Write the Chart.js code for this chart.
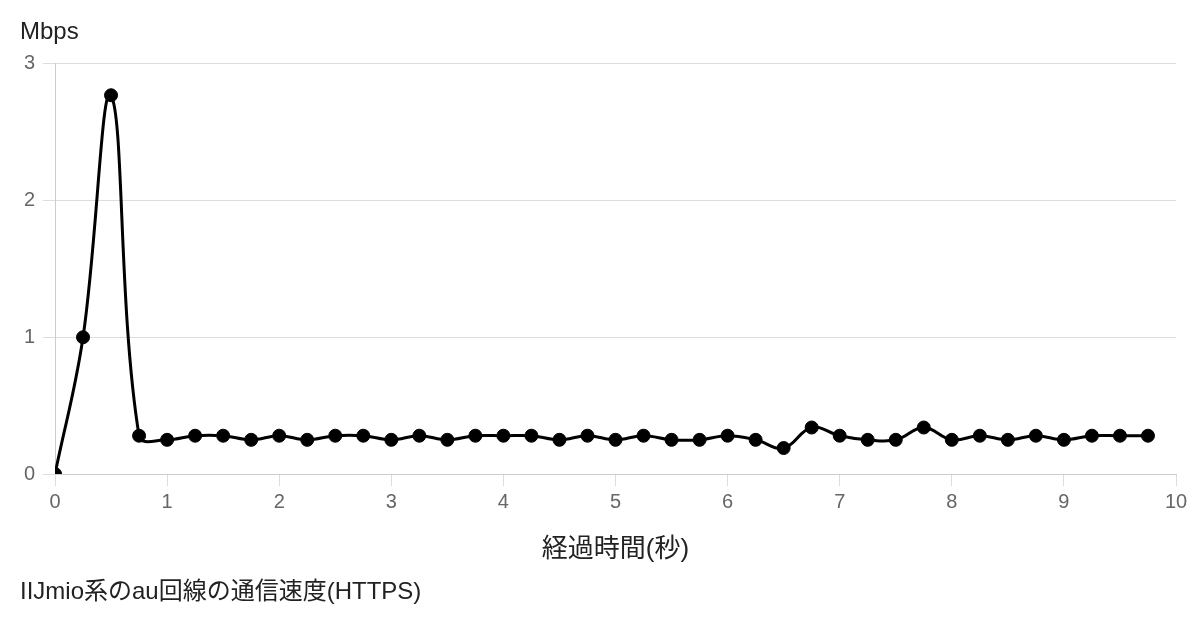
<!DOCTYPE html>
<html>
<head>
<meta charset="utf-8">
<script src="https://cdn.jsdelivr.net/npm/chart.js@4"></script>
<style>
  html, body { margin: 0; padding: 0; background: #fff; }
  #wrap { width: 1200px; height: 624px; }
</style>
</head>
<body>
<div id="wrap"><canvas id="chart"></canvas></div>
<script>
// データ
const times = [0, 0.25, 0.5, 0.75, 1, 1.25, 1.5, 1.75, 2, 2.25, 2.5, 2.75, 3, 3.25, 3.5, 3.75,
  4, 4.25, 4.5, 4.75, 5, 5.25, 5.5, 5.75, 6, 6.25, 6.5, 6.75, 7, 7.25, 7.5, 7.75,
  8, 8.25, 8.5, 8.75, 9, 9.25, 9.5, 9.75];
const speeds = [0, 1.0, 2.77, 0.28, 0.25, 0.28, 0.28, 0.25, 0.28, 0.25, 0.28, 0.28, 0.25, 0.28, 0.25, 0.28,
  0.28, 0.28, 0.25, 0.28, 0.25, 0.28, 0.25, 0.25, 0.28, 0.25, 0.19, 0.34, 0.28, 0.25, 0.25, 0.34,
  0.25, 0.28, 0.25, 0.28, 0.25, 0.28, 0.28, 0.28];
const xTicks = [0, 1, 2, 3, 4, 5, 6, 7, 8, 9, 10];
const yTicks = [0, 1, 2, 3];

const FONT = "'Liberation Sans', 'Noto Sans CJK JP', sans-serif";

const points = times.map((t, i) => ({ x: t, y: speeds[i] }));

new Chart(document.getElementById('chart'), {
    type: 'line',
    data: {
        datasets: [{
            label: '通信速度',
            data: points,
            borderColor: '#000',
            backgroundColor: '#000',
            borderWidth: 3,
            pointRadius: 6.5,
            pointBorderWidth: 1,
            tension: 0.4,
            fill: false
        }]
    },
    options: {
        responsive: true,
        maintainAspectRatio: false,
        animation: false,
        layout: { padding: { left: 20, right: 24, top: 10, bottom: 10 } },
        scales: {
            x: {
                type: 'linear',
                min: 0,
                max: 10,
                afterBuildTicks: (axis) => { axis.ticks = xTicks.map(v => ({ value: v })); },
                ticks: { color: '#666', font: { family: FONT, size: 20 }, padding: 4 },
                grid: { drawOnChartArea: false, tickLength: 12, color: '#ddd' },
                border: { color: '#ccc' },
                title: { display: true, text: '経過時間(秒)', color: '#222', font: { family: FONT, size: 26 }, padding: { top: 16, bottom: 0 } }
            },
            y: {
                min: 0,
                max: 3,
                afterBuildTicks: (axis) => { axis.ticks = yTicks.map(v => ({ value: v })); },
                afterFit: (axis) => { axis.width = 35; },
                ticks: { color: '#666', font: { family: FONT, size: 20 }, padding: 8 },
                grid: { tickLength: 12, color: '#ddd' },
                border: { color: '#ccc' }
            }
        },
        plugins: {
            legend: { display: false },
            tooltip: { enabled: false },
            title: {
                display: true,
                text: 'Mbps',
                align: 'start',
                position: 'top',
                color: '#222',
                font: { family: FONT, size: 24, weight: 'normal' },
                padding: { top: 8, bottom: 17 }
            },
            subtitle: {
                display: true,
                text: 'IIJmio系のau回線の通信速度(HTTPS)',
                align: 'start',
                position: 'bottom',
                color: '#222',
                font: { family: FONT, size: 24, weight: 'normal' },
                padding: { top: 13, bottom: 7 }
            }
        }
    }
});
</script>
</body>
</html>
